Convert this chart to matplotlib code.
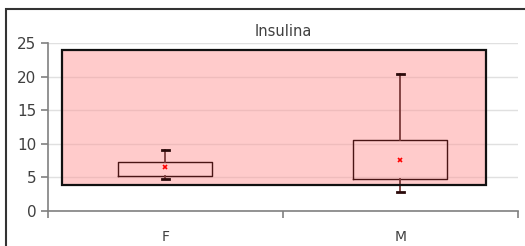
import matplotlib
matplotlib.use("Agg")
import matplotlib.pyplot as plt
from matplotlib.patches import Rectangle

# box plot values
categories = ["F", "M"]
q1 = [5.2, 4.8]
q3 = [7.3, 10.5]
whis_low = [4.7, 2.8]
whis_high = [9.05, 20.4]
means = [6.5, 7.6]
medians = [6.2, 7.0]  # not drawn in the original

# highlighted reference range
band_low = 3.8
band_high = 24.0
band_x = [-0.44, 1.364]

plt.rcParams['font.family'] = ['DejaVu Sans']

fig = plt.figure(figsize=(5.25, 2.46), dpi=100)
ax = fig.add_axes([0.0914, 0.1435, 0.8946, 0.6805])

# grid
ax.set_ylim(0, 25)
ax.set_xlim(-0.5, 1.5)
ax.set_yticks([0, 5, 10, 15, 20, 25])
ax.yaxis.grid(True, color='#e0e0e0', linewidth=1.0, zorder=0)
ax.set_axisbelow(True)

# pink band
ax.add_patch(Rectangle((band_x[0], band_low), band_x[1] - band_x[0], band_high - band_low,
                       facecolor='#ff9999', alpha=0.5, edgecolor='none', zorder=1))
ax.add_patch(Rectangle((band_x[0], band_low), band_x[1] - band_x[0], band_high - band_low,
                       facecolor='none', edgecolor='#111111', linewidth=1.6, zorder=4))

stats = []
for i in range(len(categories)):
    stats.append({'label': categories[i], 'q1': q1[i], 'q3': q3[i], 'med': medians[i],
                  'whislo': whis_low[i], 'whishi': whis_high[i], 'mean': means[i], 'fliers': []})

ax.bxp(stats, positions=[0, 1], widths=0.4, showmeans=True, showfliers=False,
       boxprops=dict(color='#4a1515', linewidth=1.0),
       whiskerprops=dict(color='#7a3a3a', linewidth=1.3),
       capprops=dict(color='#2a0a0a', linewidth=2.0),
       medianprops=dict(linewidth=0),
       meanprops=dict(marker='x', markeredgecolor='#ff0000', markersize=3.5, markeredgewidth=1.2),
       capwidths=0.03, zorder=3)

ax.set_xticks([-0.5, 0.5, 1.5], minor=False)
ax.set_xticklabels([])
ax.set_xticks([0, 1], minor=True)
ax.set_xticklabels(categories, minor=True)
ax.tick_params(axis='x', which='minor', length=0, pad=14, labelsize=10, labelcolor='#404040')
ax.tick_params(axis='x', which='major', length=5, color='#808080', width=1.2)
ax.tick_params(axis='y', length=5, color='#808080', width=1.2, labelsize=11, labelcolor='#404040')

for s in ['top', 'right']:
    ax.spines[s].set_visible(False)
for s in ['left', 'bottom']:
    ax.spines[s].set_color('#808080')
    ax.spines[s].set_linewidth(1.2)

ax.set_title("Insulina", fontsize=10.5, color='#404040', pad=5)

# outer chart border
fig.patches.append(Rectangle((5.5 / 525, -0.05), 1.1, 1.05 - 8.5 / 246, transform=fig.transFigure,
                             facecolor='none', edgecolor='#333333', linewidth=1.5))

fig.savefig("out.png", dpi=100)
